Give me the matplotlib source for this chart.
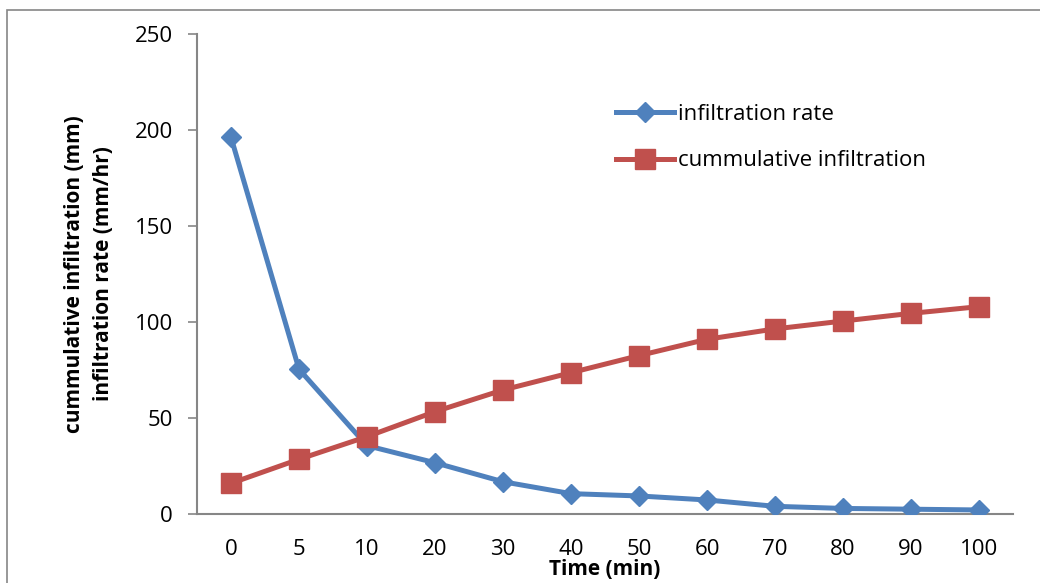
import matplotlib.pyplot as plt
from matplotlib.patches import Rectangle

# ── Data ──────────────────────────────────────────────────────────
time_labels = ["0", "5", "10", "20", "30", "40", "50", "60", "70", "80", "90", "100"]
infiltration_rate = [196.2, 75.4, 35.6, 26.7, 16.8, 10.6, 9.4, 7.3, 4.0, 2.9, 2.5, 2.1]
cumulative_infiltration = [16.0, 28.5, 40.3, 53.3, 64.6, 73.6, 82.5, 91.0, 96.4, 100.5, 104.5, 108.0]
y_ticks = [0, 50, 100, 150, 200, 250]

BLUE = "#4F81BD"
RED = "#C0504D"
GREY = "#868686"

plt.rcParams["font.family"] = ["Open Sans", "DejaVu Sans"]

fig = plt.figure(figsize=(10.4, 5.83), dpi=100)
W, H = 1040, 583

# chart-area border (Excel style)
fig.patches.append(Rectangle((7 / W, -0.05), 1.2, 1 - 10 / H + 0.05,
                             transform=fig.transFigure, fill=False,
                             edgecolor=GREY, linewidth=1.2))

ax = fig.add_axes([197 / W, 1 - 514 / H, (1013 - 197) / W, (514 - 34) / H])
x = list(range(len(time_labels)))

ax.plot(x, infiltration_rate, color=BLUE, linewidth=3.6, marker="D",
        markersize=10.5, markerfacecolor=BLUE, markeredgecolor=BLUE,
        label="infiltration rate", zorder=3)
ax.plot(x, cumulative_infiltration, color=RED, linewidth=3.6, marker="s",
        markersize=14, markerfacecolor=RED, markeredgecolor=RED,
        label="cummulative infiltration", zorder=4)

ax.set_xlim(-0.5, len(time_labels) - 0.5)
ax.set_ylim(0, 250)
ax.set_xticks(x)
ax.set_xticklabels(time_labels)
ax.set_yticks(y_ticks)

for side in ["top", "right"]:
    ax.spines[side].set_visible(False)
for side in ["left", "bottom"]:
    ax.spines[side].set_color(GREY)
    ax.spines[side].set_linewidth(1.5)

ax.tick_params(axis="y", length=6.5, width=1.2, color=GREY, pad=11,
               labelsize=16)
ax.tick_params(axis="x", length=0, pad=18, labelsize=16)

ax.set_xlabel("Time (min)", fontsize=15, fontweight="bold", labelpad=-1)
ax.set_ylabel("cummulative infiltration (mm)\ninfiltration rate (mm/hr)",
              fontsize=15, fontweight="bold", labelpad=15, linespacing=1.5)

ax.legend(loc="upper left", bbox_to_anchor=(410 / 816, 1 - 61 / 480),
          frameon=False, fontsize=16, handlelength=2.6, handletextpad=0.2,
          labelspacing=1.15, borderaxespad=0)

fig.savefig("out.png", dpi=100)
